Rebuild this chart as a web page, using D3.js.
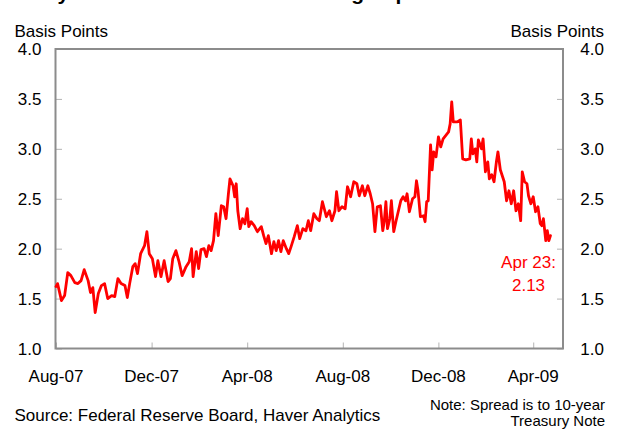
<!DOCTYPE html>
<html>
<head>
<meta charset="utf-8">
<script src="https://cdnjs.cloudflare.com/ajax/libs/d3/7.8.5/d3.min.js"></script>
<style>
    body { margin: 0; background: #fff; }
    svg { display: block; font-family: Arial, "Liberation Sans", sans-serif; }
</style>
</head>
<body>
<svg width=618 height=433 class='container'></svg>
<script>
var spreadDates = [
    '2007-08-01', '2007-08-03', '2007-08-08', '2007-08-12', '2007-08-16', '2007-08-20', '2007-08-25', '2007-08-29',
    '2007-09-02', '2007-09-06', '2007-09-11', '2007-09-14', '2007-09-17', '2007-09-20', '2007-09-24', '2007-09-28',
    '2007-10-02', '2007-10-06', '2007-10-11', '2007-10-15', '2007-10-19', '2007-10-23', '2007-10-28', '2007-10-31',
    '2007-11-03', '2007-11-07', '2007-11-10', '2007-11-13', '2007-11-17', '2007-11-22', '2007-11-25', '2007-11-28',
    '2007-12-02', '2007-12-06', '2007-12-09', '2007-12-13', '2007-12-17', '2007-12-22', '2007-12-25', '2007-12-28',
    '2008-01-01', '2008-01-05', '2008-01-09', '2008-01-14', '2008-01-18', '2008-01-21', '2008-01-23', '2008-01-27',
    '2008-01-30', '2008-02-02', '2008-02-06', '2008-02-09', '2008-02-12', '2008-02-15', '2008-02-18', '2008-02-21',
    '2008-02-24', '2008-02-28', '2008-03-02', '2008-03-05', '2008-03-08', '2008-03-10', '2008-03-14', '2008-03-16',
    '2008-03-18', '2008-03-20', '2008-03-23', '2008-03-26', '2008-03-29', '2008-04-01', '2008-04-03', '2008-04-06',
    '2008-04-10', '2008-04-14', '2008-04-19', '2008-04-22', '2008-04-25', '2008-04-28', '2008-05-02', '2008-05-05',
    '2008-05-08', '2008-05-11', '2008-05-14', '2008-05-17', '2008-05-21', '2008-05-24', '2008-05-27', '2008-05-31',
    '2008-06-04', '2008-06-07', '2008-06-11', '2008-06-15', '2008-06-18', '2008-06-21', '2008-06-25', '2008-06-29',
    '2008-07-02', '2008-07-06', '2008-07-11', '2008-07-15', '2008-07-18', '2008-07-22', '2008-07-24', '2008-07-27',
    '2008-07-31', '2008-08-04', '2008-08-07', '2008-08-11', '2008-08-15', '2008-08-19', '2008-08-22', '2008-08-26',
    '2008-08-29', '2008-09-02', '2008-09-05', '2008-09-08', '2008-09-11', '2008-09-14', '2008-09-18', '2008-09-21',
    '2008-09-23', '2008-09-25', '2008-09-27', '2008-09-30', '2008-10-02', '2008-10-05', '2008-10-08', '2008-10-11',
    '2008-10-14', '2008-10-17', '2008-10-20', '2008-10-22', '2008-10-25', '2008-10-29', '2008-11-01', '2008-11-03',
    '2008-11-05', '2008-11-08', '2008-11-12', '2008-11-14', '2008-11-16', '2008-11-18', '2008-11-21', '2008-11-23',
    '2008-11-25', '2008-11-28', '2008-12-01', '2008-12-04', '2008-12-07', '2008-12-11', '2008-12-14', '2008-12-16',
    '2008-12-18', '2008-12-20', '2008-12-25', '2008-12-29', '2009-01-01', '2009-01-05', '2009-01-10', '2009-01-12',
    '2009-01-14', '2009-01-17', '2009-01-19', '2009-01-21', '2009-01-25', '2009-01-27', '2009-01-30', '2009-02-02',
    '2009-02-04', '2009-02-07', '2009-02-10', '2009-02-13', '2009-02-15', '2009-02-18', '2009-02-23', '2009-02-26',
    '2009-03-01', '2009-03-04', '2009-03-07', '2009-03-10', '2009-03-13', '2009-03-16', '2009-03-18', '2009-03-21',
    '2009-03-24', '2009-03-26', '2009-03-29', '2009-04-01', '2009-04-04', '2009-04-07', '2009-04-10', '2009-04-12',
    '2009-04-14', '2009-04-17', '2009-04-19', '2009-04-21', '2009-04-23'
];

var spreadValues = [
    1.62, 1.65, 1.48, 1.53, 1.76, 1.73, 1.66, 1.65,
    1.68, 1.79, 1.68, 1.56, 1.61, 1.36, 1.55, 1.63,
    1.65, 1.50, 1.53, 1.52, 1.70, 1.65, 1.63, 1.51,
    1.65, 1.82, 1.85, 1.75, 1.95, 2.03, 2.17, 1.95,
    1.90, 1.72, 1.88, 1.72, 1.88, 1.67, 1.70, 1.90,
    1.98, 1.87, 1.73, 1.82, 1.87, 2.00, 1.72, 1.97,
    1.80, 1.99, 2.00, 1.92, 2.03, 1.98, 2.08, 2.35,
    2.13, 2.43, 2.42, 2.30, 2.55, 2.70, 2.63, 2.52,
    2.65, 2.38, 2.20, 2.30, 2.25, 2.40, 2.22, 2.27,
    2.23, 2.17, 2.22, 2.13, 2.05, 2.13, 1.95, 2.07,
    1.98, 2.08, 1.97, 2.08, 2.00, 1.95, 2.02, 2.12,
    2.23, 2.10, 2.20, 2.18, 2.28, 2.18, 2.35, 2.30,
    2.28, 2.47, 2.32, 2.38, 2.28, 2.38, 2.57, 2.38,
    2.42, 2.40, 2.62, 2.52, 2.67, 2.65, 2.53, 2.63,
    2.53, 2.63, 2.55, 2.45, 2.17, 2.42, 2.43, 2.18,
    2.28, 2.47, 2.20, 2.30, 2.48, 2.17, 2.28, 2.38,
    2.48, 2.52, 2.48, 2.55, 2.37, 2.50, 2.52, 2.68,
    2.58, 2.32, 2.33, 2.27, 2.47, 2.48, 3.04, 2.79,
    2.97, 2.92, 3.12, 3.02, 3.10, 3.14, 3.17, 3.25,
    3.47, 3.27, 3.27, 3.29, 2.90, 2.89, 2.90, 3.10,
    2.95, 3.00, 2.87, 3.09, 3.00, 3.10, 2.77, 2.87,
    2.70, 2.74, 2.67, 2.87, 2.97, 2.79, 2.67, 2.48,
    2.58, 2.45, 2.58, 2.38, 2.45, 2.28, 2.77, 2.67,
    2.65, 2.53, 2.45, 2.52, 2.37, 2.42, 2.25, 2.23,
    2.30, 2.08, 2.18, 2.08, 2.13
];

var yTicks = [1.0, 1.5, 2.0, 2.5, 3.0, 3.5, 4.0];
var xTickDates = ['2007-08-01', '2007-12-01', '2008-04-01', '2008-08-01', '2008-12-01', '2009-04-01'];
var xTickLabels = ['Aug-07', 'Dec-07', 'Apr-08', 'Aug-08', 'Dec-08', 'Apr-09'];
var lastLabel = ['Apr 23:', '2.13'];
var titleText = 'Daily 30-Year Conventional Average Spread';
var unitLabel = 'Basis Points';
var sourceText = 'Source: Federal Reserve Board, Haver Analytics';
var noteLines = ['Note: Spread is to 10-year', 'Treasury Note'];

var parseDate = d3.timeParse('%Y-%m-%d'),
    plotLeft = 56,
    plotRight = 563,
    plotTop = 49,
    plotBottom = 348.5,
    frameColor = '#8c8c8c',
    tickColor = '#b4b4b4',
    lineColor = '#ff0000';

var x = d3.scaleTime()
    .domain([parseDate('2007-08-01'), parseDate('2009-05-09')])
    .range([plotLeft, plotRight]);

var y = d3.scaleLinear()
    .domain([1, 4])
    .range([plotBottom, plotTop]);

var svg = d3.select('.container');

// title sits above the picture, only the descenders show
svg.append('text')
    .attr('x', 19)
    .attr('y', -0.5)
    .attr('font-size', 21)
    .attr('font-weight', 'bold')
    .attr('fill', '#000')
    .text(titleText);

svg.append('text')
    .attr('x', 14.5)
    .attr('y', 37)
    .attr('font-size', 17)
    .text(unitLabel);

svg.append('text')
    .attr('x', 604)
    .attr('y', 37)
    .attr('font-size', 17)
    .attr('text-anchor', 'end')
    .text(unitLabel);

// axes: ticks pointing into the plot, labels outside
var leftAxis = d3.axisRight(y).tickValues(yTicks).tickSize(6).tickFormat(''),
    rightAxis = d3.axisLeft(y).tickValues(yTicks).tickSize(6).tickFormat(''),
    bottomAxis = d3.axisTop(x).tickValues(xTickDates.map(parseDate)).tickSize(6).tickFormat('');

function styleAxis(g) {
    g.select('.domain').remove();
    g.selectAll('line').attr('stroke', tickColor).attr('stroke-width', 1);
}

svg.append('g').attr('transform', 'translate(' + plotLeft + ',0)').call(leftAxis).call(styleAxis);
svg.append('g').attr('transform', 'translate(' + plotRight + ',0)').call(rightAxis).call(styleAxis);
svg.append('g').attr('transform', 'translate(0,' + plotBottom + ')').call(bottomAxis).call(styleAxis);

svg.append('g')
    .selectAll('text')
    .data(yTicks)
    .enter()
    .append('text')
    .attr('x', 41.5)
    .attr('y', function(d) { return y(d); })
    .attr('dy', '0.36em')
    .attr('font-size', 17)
    .attr('text-anchor', 'end')
    .text(d3.format('.1f'));

svg.append('g')
    .selectAll('text')
    .data(yTicks)
    .enter()
    .append('text')
    .attr('x', 604)
    .attr('y', function(d) { return y(d); })
    .attr('dy', '0.36em')
    .attr('font-size', 17)
    .attr('text-anchor', 'end')
    .text(d3.format('.1f'));

svg.append('g')
    .selectAll('text')
    .data(xTickDates)
    .enter()
    .append('text')
    .attr('x', function(d) { return x(parseDate(d)); })
    .attr('y', 381.5)
    .attr('font-size', 17)
    .attr('text-anchor', 'middle')
    .text(function(d, i) { return xTickLabels[i]; });

svg.append('rect')
    .attr('x', plotLeft - 0.5)
    .attr('y', plotTop)
    .attr('width', plotRight - plotLeft + 0.5)
    .attr('height', plotBottom - plotTop)
    .attr('fill', 'none')
    .attr('stroke', frameColor)
    .attr('stroke-width', 2);

var points = spreadDates.map(function(d, i) {
    return {date: parseDate(d), value: spreadValues[i]};
});

var line = d3.line()
    .x(function(d) { return x(d.date); })
    .y(function(d) { return y(d.value); });

svg.append('path')
    .datum(points)
    .attr('d', line)
    .attr('fill', 'none')
    .attr('stroke', lineColor)
    .attr('stroke-width', 2.8)
    .attr('stroke-linejoin', 'round')
    .attr('stroke-linecap', 'round');

svg.append('g')
    .selectAll('text')
    .data(lastLabel)
    .enter()
    .append('text')
    .attr('x', 528.5)
    .attr('y', function(d, i) { return 268 + i * 22.5; })
    .attr('font-size', 17)
    .attr('text-anchor', 'middle')
    .attr('fill', lineColor)
    .text(function(d) { return d; });

svg.append('text')
    .attr('x', 14.5)
    .attr('y', 421)
    .attr('font-size', 17)
    .text(sourceText);

svg.append('g')
    .selectAll('text')
    .data(noteLines)
    .enter()
    .append('text')
    .attr('x', 605)
    .attr('y', function(d, i) { return 409.5 + i * 16; })
    .attr('font-size', 15)
    .attr('text-anchor', 'end')
    .text(function(d) { return d; });
</script>
</body>
</html>
